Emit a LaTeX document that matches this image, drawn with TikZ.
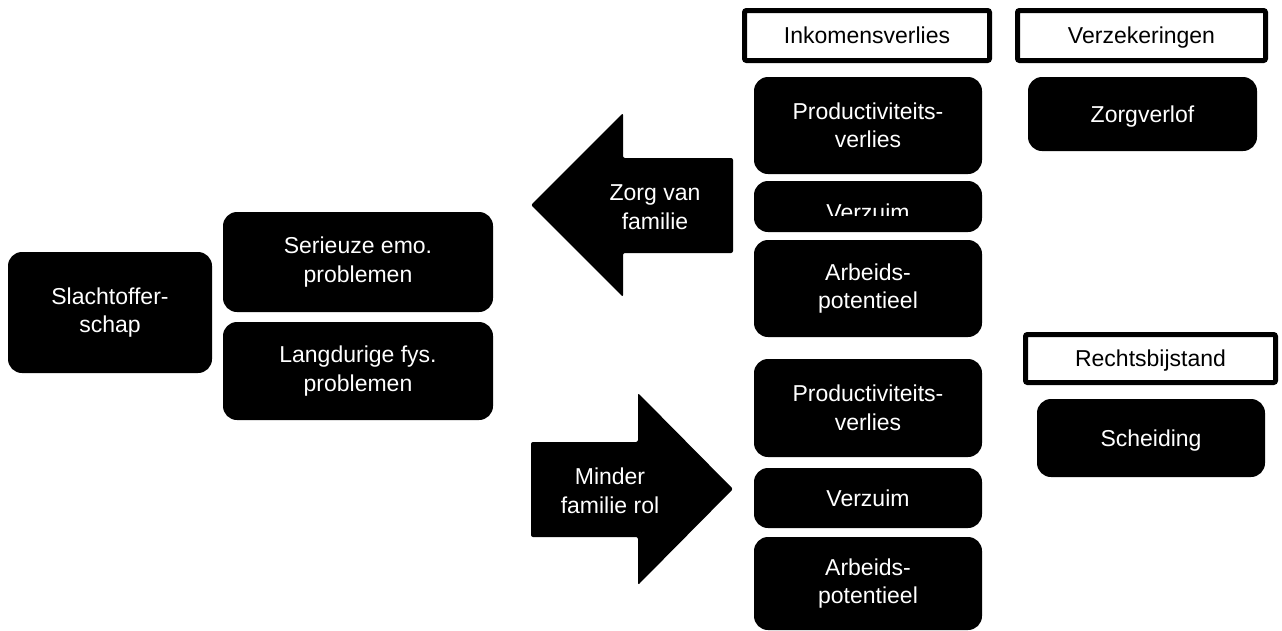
\documentclass[tikz,border=0pt]{standalone}
\usepackage{fontspec}
\setmainfont{Liberation Sans}
\usepackage{tikz}
\usetikzlibrary{positioning}
\newcommand{\lbl}{\fontsize{23}{28.5}\selectfont}

\begin{document}
\begin{tikzpicture}[
  x=1pt, y=-1pt,
  blk/.style={fill=black, text=white, rounded corners=14pt, align=center, inner sep=0pt, font=\lbl},
  hdr/.style={draw=black, line width=5pt, fill=white, rounded corners=2pt, align=center, inner sep=0pt, font=\lbl},
  een/.style={text height=16.5pt, text depth=0pt},
  pijl/.style={fill=black, rounded corners=2pt},
  pijltxt/.style={text=white, align=center, inner sep=0pt, font=\lbl}
]
  \useasboundingbox (0,0) rectangle (1282,630);

  % oorzaak
  \node[blk, minimum width=204pt, minimum height=121pt] (slacht) at (110,312.5) {Slachtoffer-\\schap};
  \node[blk, minimum width=270pt, minimum height=100pt] (emo) at (358,262) {Serieuze emo.\\problemen};
  \node[blk, minimum width=270pt, minimum height=98pt] (fys) at (358,371) {Langdurige fys.\\problemen};

  % pijlen
  \fill[pijl] (733,158) -- (623,158) -- (623,113) -- (531,205) -- (623,297) -- (623,253) -- (733,253) -- cycle;
  \node[pijltxt] (zorgfam) at (655,207) {Zorg van\\familie};
  \fill[pijl] (531,442) -- (638,442) -- (638,393) -- (733,489) -- (638,585) -- (638,537) -- (531,537) -- cycle;
  \node[pijltxt] (minderfam) at (610,491) {Minder\\familie rol};

  % inkomensverlies
  \node[hdr, een, minimum width=245pt, minimum height=50pt] (inkomen) at (867,35.5) {Inkomensverlies};
  \node[blk, minimum width=228pt, minimum height=97pt] (prod1) at (868,125.5) {Productiviteits-\\verlies};
  \node[blk, minimum width=228pt, minimum height=51pt] (verzuim1) at (868,206.5) {};
  \begin{scope}
    \clip (754,181) rectangle (982,215);
    \node[pijltxt, anchor=base] (verzuim1txt) at (868,220) {Verzuim};
  \end{scope}
  \node[blk, minimum width=228pt, minimum height=97pt] (arbeid1) at (868,288.5) {Arbeids-\\potentieel};
  \node[blk, minimum width=228pt, minimum height=98pt] (prod2) at (868,408) {Productiviteits-\\verlies};
  \node[blk, een, minimum width=228pt, minimum height=60pt] (verzuim2) at (868,498) {Verzuim};
  \node[blk, minimum width=228pt, minimum height=93pt] (arbeid2) at (868,583.5) {Arbeids-\\potentieel};

  % verzekeringen en rechtsbijstand
  \node[hdr, een, minimum width=248pt, minimum height=50pt] (verzek) at (1141.5,35.5) {Verzekeringen};
  \node[blk, een, minimum width=229pt, minimum height=74pt] (zorgverlof) at (1142.5,114) {Zorgverlof};
  \node[hdr, een, minimum width=250pt, minimum height=48pt] (rechts) at (1150.5,358.5) {Rechtsbijstand};
  \node[blk, een, minimum width=228pt, minimum height=78pt] (scheiding) at (1151,438) {Scheiding};
\end{tikzpicture}
\end{document}
